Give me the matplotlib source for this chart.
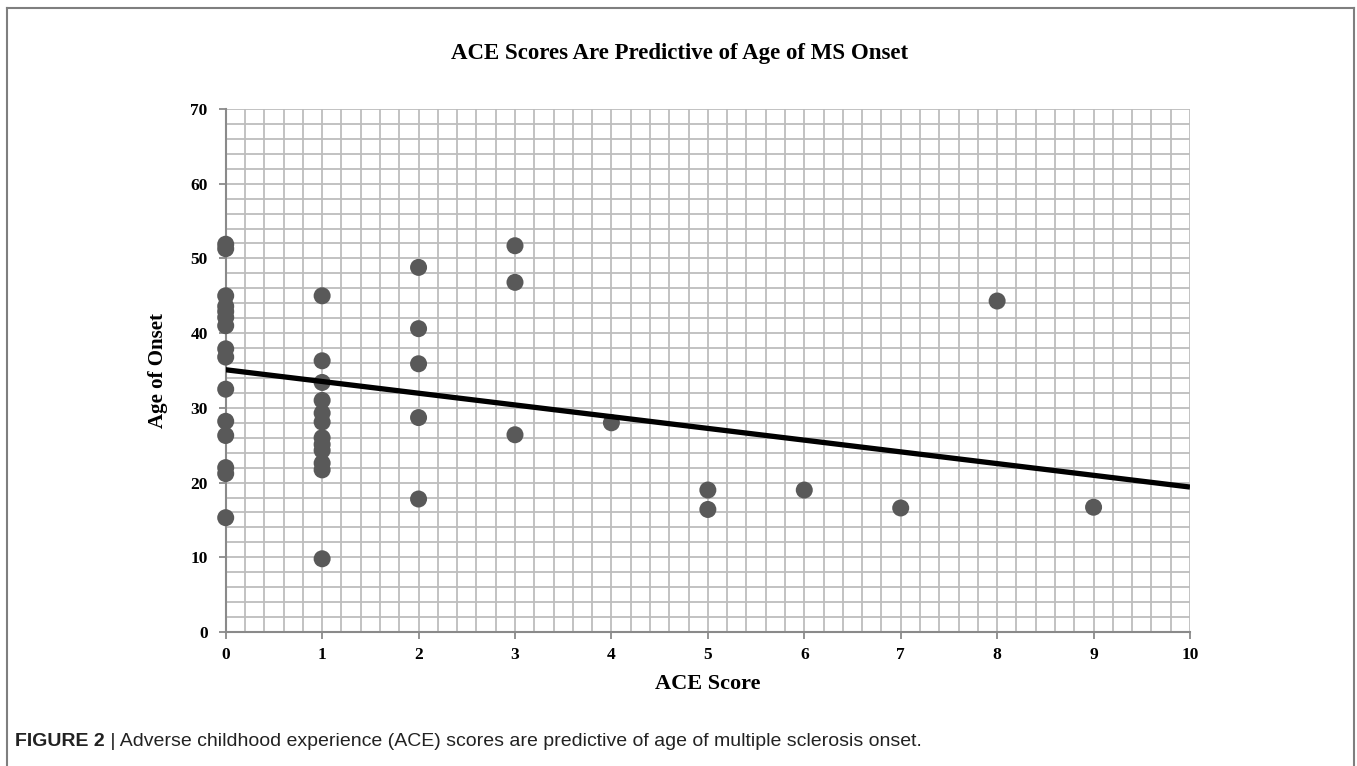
import matplotlib
matplotlib.use("Agg")
import matplotlib.pyplot as plt
from matplotlib.ticker import MultipleLocator
from matplotlib.lines import Line2D

# ---- data ----
ace_score = [0, 0, 0, 0, 0, 0, 0, 0, 0, 0, 0, 0, 0, 0, 0,
             1, 1, 1, 1, 1, 1, 1, 1, 1, 1, 1, 1,
             2, 2, 2, 2, 2,
             3, 3, 3,
             4, 5, 5, 6, 7, 8, 9]
age_onset = [51.9, 51.3, 45.0, 43.6, 42.9, 42.1, 41.0, 37.9, 36.8, 32.5, 28.2, 26.3, 22.0, 21.2, 15.3,
             45.0, 36.3, 33.4, 31.0, 29.3, 28.1, 26.0, 25.1, 24.3, 22.6, 21.7, 9.8,
             48.8, 40.6, 35.9, 28.7, 17.8,
             51.7, 46.8, 26.4,
             28.0, 19.0, 16.4, 19.0, 16.6, 44.3, 16.7]
trend_x = [0, 10]
trend_y = [35.1, 19.4]

title = "ACE Scores Are Predictive of Age of MS Onset"
xlabel = "ACE Score"
ylabel = "Age of Onset"
caption_bold = "FIGURE 2"
caption_rest = " | Adverse childhood experience (ACE) scores are predictive of age of multiple sclerosis onset."

W, H = 1357, 766
fig = plt.figure(figsize=(W / 100, H / 100), dpi=100)
serif = ["Liberation Serif", "DejaVu Serif"]
sans = ["Liberation Sans", "DejaVu Sans"]

ax = fig.add_axes([225.7 / W, (H - 632) / H, (1190 - 225.7) / W, (632 - 109) / H])
ax.set_xlim(0, 10)
ax.set_ylim(0, 70)
ax.xaxis.set_major_locator(MultipleLocator(1))
ax.xaxis.set_minor_locator(MultipleLocator(0.2))
ax.yaxis.set_major_locator(MultipleLocator(10))
ax.yaxis.set_minor_locator(MultipleLocator(2))
grid_c = "#bdbdbd"
ax.grid(True, which="both", color=grid_c, linewidth=1.3)
ax.set_axisbelow(True)
for s in ["top", "right"]:
    ax.spines[s].set_visible(False)
for s in ["left", "bottom"]:
    ax.spines[s].set_color("#8a8a8a")
    ax.spines[s].set_linewidth(1.5)
    ax.spines[s].set_zorder(1.5)
ax.tick_params(which="major", direction="out", length=5, width=1.3, color="#8a8a8a")
ax.tick_params(which="minor", length=0)
ax.tick_params(axis="x", pad=6)
ax.tick_params(axis="y", pad=8)
for lab in ax.get_xticklabels() + ax.get_yticklabels():
    lab.set_fontfamily(serif)
    lab.set_fontweight("bold")
    lab.set_fontsize(12.5)

ax.scatter(ace_score, age_onset, s=150, color="#595959", edgecolors="none", zorder=3, clip_on=False)
ax.plot(trend_x, trend_y, color="black", linewidth=3.8, zorder=4, solid_capstyle="butt")

ax.set_xlabel(xlabel, family=serif, fontweight="bold", fontsize=16, labelpad=8)
ax.set_ylabel(ylabel, family=serif, fontweight="bold", fontsize=15, labelpad=16)

fig.text(680 / W, 1 - 54 / H, title, family=serif, fontweight="bold", fontsize=16.5,
         ha="center", va="center")

# caption
t1 = fig.text(15 / W, 1 - 741 / H, caption_bold, family=sans,
              fontweight="bold", fontsize=14, ha="left", va="center", color="#222222")
fig.canvas.draw()
bb = t1.get_window_extent()
fig.text(bb.x1 / W, 1 - 741 / H, caption_rest, family=sans,
         fontsize=14, ha="left", va="center", color="#222222")

# outer frame (top, left, right)
fc = "#7f7f7f"
fig.add_artist(Line2D([7 / W, 7 / W], [0, 1 - 8 / H], color=fc, linewidth=1.5, transform=fig.transFigure))
fig.add_artist(Line2D([1354 / W, 1354 / W], [0, 1 - 8 / H], color=fc, linewidth=1.5, transform=fig.transFigure))
fig.add_artist(Line2D([7 / W, 1354 / W], [1 - 8 / H, 1 - 8 / H], color=fc, linewidth=1.5, transform=fig.transFigure))

fig.savefig("out.png", dpi=100, facecolor="white")
